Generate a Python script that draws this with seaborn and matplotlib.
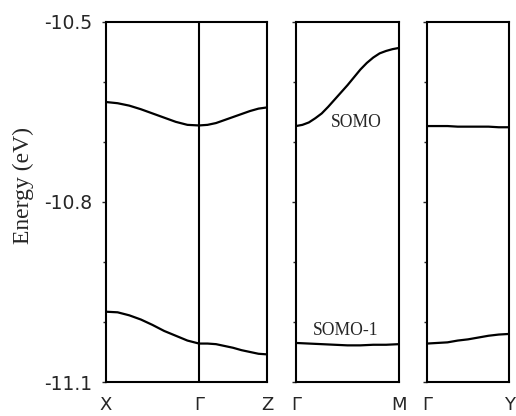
import pandas as pd
import seaborn as sns
import matplotlib.pyplot as plt
from matplotlib.ticker import MultipleLocator

# band energies (eV) read along the k-path, 9 points per segment
seg_frac = [0, 0.125, 0.25, 0.375, 0.5, 0.625, 0.75, 0.875, 1.0]
seg_fine = [i / 16 for i in range(17)]

# panel 1: X -> Gamma -> Z
somo_xg = [-10.634, -10.636, -10.640, -10.646, -10.653, -10.660, -10.667, -10.672, -10.673]
somo_gz = [-10.673, -10.672, -10.669, -10.664, -10.659, -10.654, -10.649, -10.645, -10.643]
somo1_xg = [-10.983, -10.984, -10.989, -10.996, -11.005, -11.015, -11.023, -11.031, -11.036]
somo1_gz = [-11.036, -11.036, -11.037, -11.040, -11.043, -11.047, -11.050, -11.053, -11.054]

# panel 2: Gamma -> M (SOMO read at 17 points, it bends the most)
somo_gm = [-10.674, -10.672, -10.668, -10.661, -10.653, -10.642, -10.630, -10.618, -10.606,
           -10.593, -10.580, -10.569, -10.560, -10.553, -10.549, -10.546, -10.544]
somo1_gm = [-11.035, -11.036, -11.037, -11.038, -11.039, -11.039, -11.038, -11.038, -11.037]

# panel 3: Gamma -> Y
somo_gy = [-10.674, -10.674, -10.674, -10.675, -10.675, -10.675, -10.675, -10.676, -10.676]
somo1_gy = [-11.036, -11.035, -11.034, -11.031, -11.029, -11.026, -11.023, -11.021, -11.020]

len_xg, len_gz = 1.0, 0.73
labels1 = ['X', 'Γ', 'Z']
labels2 = ['Γ', 'M']
labels3 = ['Γ', 'Y']

sns.set_style('ticks')
plt.rcParams['font.family'] = ['DejaVu Sans']

# build long tables for seaborn
k_xg = [f * len_xg for f in seg_frac]
k_gz = [len_xg + f * len_gz for f in seg_frac]
df1 = pd.DataFrame({
    'k': k_xg + k_gz + k_xg + k_gz,
    'energy': somo_xg + somo_gz + somo1_xg + somo1_gz,
    'band': ['SOMO'] * 18 + ['SOMO-1'] * 18,
})
df2 = pd.DataFrame({'k': seg_fine + seg_frac, 'energy': somo_gm + somo1_gm,
                    'band': ['SOMO'] * 17 + ['SOMO-1'] * 9})
df3 = pd.DataFrame({'k': seg_frac * 2, 'energy': somo_gy + somo1_gy,
                    'band': ['SOMO'] * 9 + ['SOMO-1'] * 9})

fig = plt.figure(figsize=(5.16, 4.16), dpi=100)
bottom, height = 0.0817, 0.8666
ax1 = fig.add_axes([0.2054, bottom, 0.312, height])
ax2 = fig.add_axes([0.5736, bottom, 0.1996, height])
ax3 = fig.add_axes([0.8275, bottom, 0.159, height])

for ax, df in [(ax1, df1), (ax2, df2), (ax3, df3)]:
    sns.lineplot(data=df, x='k', y='energy', units='band', estimator=None,
                 color='black', lw=1.6, ax=ax)
    ax.set_ylim(-11.1, -10.5)
    ax.set_yticks([-11.1, -10.8, -10.5])
    ax.yaxis.set_minor_locator(MultipleLocator(0.1))
    ax.tick_params(axis='y', which='major', direction='out', length=3, width=1, pad=7,
                   labelsize=13.5)
    ax.tick_params(axis='y', which='minor', direction='out', length=2, width=1)
    ax.tick_params(axis='x', length=0, pad=10, labelsize=13)
    ax.set_xlabel('')
    ax.set_ylabel('')
    for sp in ax.spines.values():
        sp.set_linewidth(1.5)
        sp.set_color('black')

ax1.set_xlim(0, len_xg + len_gz)
ax1.set_xticks([0, len_xg, len_xg + len_gz])
ax1.set_xticklabels(labels1)
ax1.axvline(len_xg, color='black', lw=1.5)
ax1.set_yticklabels(['-11.1', '-10.8', '-10.5'])

ax2.set_xlim(0, 1)
ax2.set_xticks([0, 1])
ax2.set_xticklabels(labels2)
ax2.set_yticklabels([])

ax3.set_xlim(0, 1)
ax3.set_xticks([0, 1])
ax3.set_xticklabels(labels3)
ax3.set_yticklabels([])

ax2.text(0.585, 0.72, 'SOMO', transform=ax2.transAxes, ha='center', va='center',
         family='Liberation Serif', fontsize=12.7)
ax2.text(0.485, 0.144, 'SOMO-1', transform=ax2.transAxes, ha='center', va='center',
         family='Liberation Serif', fontsize=12.7)

fig.text(0.045, 0.553, 'Energy (eV)', rotation=90, ha='center', va='center',
         family='Liberation Serif', fontsize=17)

plt.savefig('out.png', dpi=100)
